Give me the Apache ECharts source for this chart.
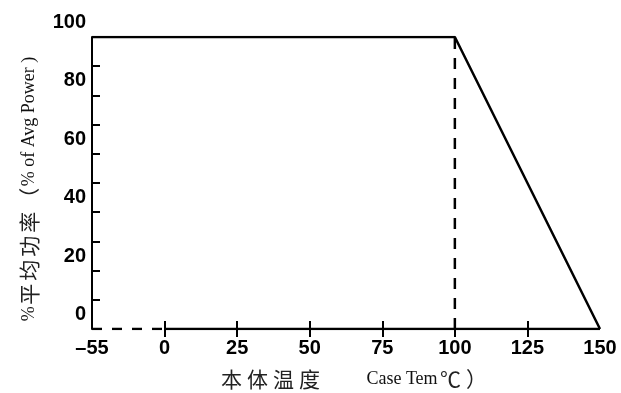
<!DOCTYPE html>
<html>
<head>
<meta charset="utf-8">
<script src="https://cdn.jsdelivr.net/npm/echarts@6/dist/echarts.min.js"></script>
<style>
  html, body { margin: 0; padding: 0; background: #fff; }
  #echarts { width: 621px; height: 393px; }
</style>
</head>
<body>
<div id="echarts"></div>
<script>
// tick labels on the x axis (the -55 segment is drawn compressed)
var tempLabels = ['-55', '0', '25', '50', '75', '100', '125', '150'];
// derating curve
var curveTemps = ['-55', '100', '150'];
var curvePower = [100, 100, 0];
// dashed guide at the knee
var kneeTemp = '100';

var myChart = echarts.init(document.getElementById('echarts'));

var curveData = curveTemps.map(function (t, i) { return [t, curvePower[i]]; });

var labelFont = {
    color: '#000',
    fontFamily: 'Liberation Sans, Arial, sans-serif',
    fontWeight: 'bold',
    fontSize: 20
};

var cnStyle = { fontFamily: 'Noto Sans CJK SC, sans-serif', fontSize: 21, color: '#222', padding: [0, 2.5, 0, 2.5] };
var cnStyleY = { fontFamily: 'Noto Sans CJK SC, sans-serif', fontSize: 21, color: '#222', padding: [0, 1.5, 0, 1.5] };
var enStyle = { fontFamily: 'Liberation Serif, Times New Roman, serif', fontSize: 18, color: '#111' };

function cnChars(s) {
    return s.split('').map(function (c) { return '{cn|' + c + '}'; }).join('');
}

option = {
    animation: false,
    grid: {
        left: 92,
        right: 21,
        top: 37,
        bottom: 64,
        containLabel: false,
        outerBoundsMode: 'none'
    },
    xAxis: [
        {
            type: 'category',
            position: 'bottom',
            boundaryGap: false,
            data: tempLabels,
            axisLine: { show: false },
            axisTick: {
                inside: true,
                length: 8,
                lineStyle: { color: '#000', width: 2 },
                interval: function (idx) { return idx > 0 && idx < tempLabels.length - 1; }
            },
            axisLabel: Object.assign({
                margin: 9,
                interval: 0,
                formatter: function (v) { return v.replace('-', '–'); }
            }, labelFont),
            splitLine: { show: false },
            name: '{sp|}' + cnChars('本体温度') + '{gap|}{en|Case Tem}{cn|℃}{cn|）}',
            nameLocation: 'middle',
            nameGap: 40,
            nameTextStyle: {
                rich: {
                    cn: cnStyle,
                    en: enStyle,
                    gap: { width: 44 },
                    sp: { width: 16 }
                }
            }
        },
        {
            type: 'category',
            position: 'bottom',
            boundaryGap: false,
            data: tempLabels,
            axisLine: { show: false },
            axisTick: {
                inside: false,
                length: 8,
                lineStyle: { color: '#000', width: 2 },
                interval: function (idx) { return idx > 0 && idx < tempLabels.length - 1; }
            },
            axisLabel: { show: false },
            splitLine: { show: false }
        }
    ],
    yAxis: {
        type: 'value',
        min: 0,
        max: 100,
        interval: 10,
        axisLine: { show: true, lineStyle: { color: '#000', width: 2 } },
        axisTick: { show: true, inside: true, length: 8, lineStyle: { color: '#000', width: 2 } },
        axisLabel: Object.assign({
            margin: 6,
            verticalAlign: 'bottom',
            lineHeight: 29,
            formatter: function (v) { return v % 20 === 0 ? String(v) : ''; }
        }, labelFont),
        splitLine: { show: false },
        name: '{en|%}' + cnChars('平均功率（') + '{en|% of Avg Power )}{sp|}',
        nameLocation: 'middle',
        nameRotate: 90,
        nameGap: 52,
        nameTextStyle: {
            rich: {
                cn: cnStyleY,
                en: enStyle,
                sp: { width: 12 }
            }
        }
    },
    series: [
        {
            name: 'power',
            type: 'line',
            data: curveData,
            symbol: 'none',
            lineStyle: { color: '#000', width: 2.5 }
        },
        {
            // compressed part of the temperature axis
            type: 'line',
            data: [[tempLabels[0], 0], [tempLabels[1], 0]],
            symbol: 'none',
            lineStyle: { color: '#000', width: 2.5, type: [10, 10] }
        },
        {
            type: 'line',
            data: [[tempLabels[1], 0], [tempLabels[tempLabels.length - 1], 0]],
            symbol: 'none',
            lineStyle: { color: '#000', width: 2.5 }
        },
        {
            type: 'line',
            data: [[kneeTemp, 0], [kneeTemp, 100]],
            symbol: 'none',
            lineStyle: { color: '#000', width: 2.5, type: [11, 9] }
        }
    ]
};

myChart.setOption(option);
</script>
</body>
</html>
